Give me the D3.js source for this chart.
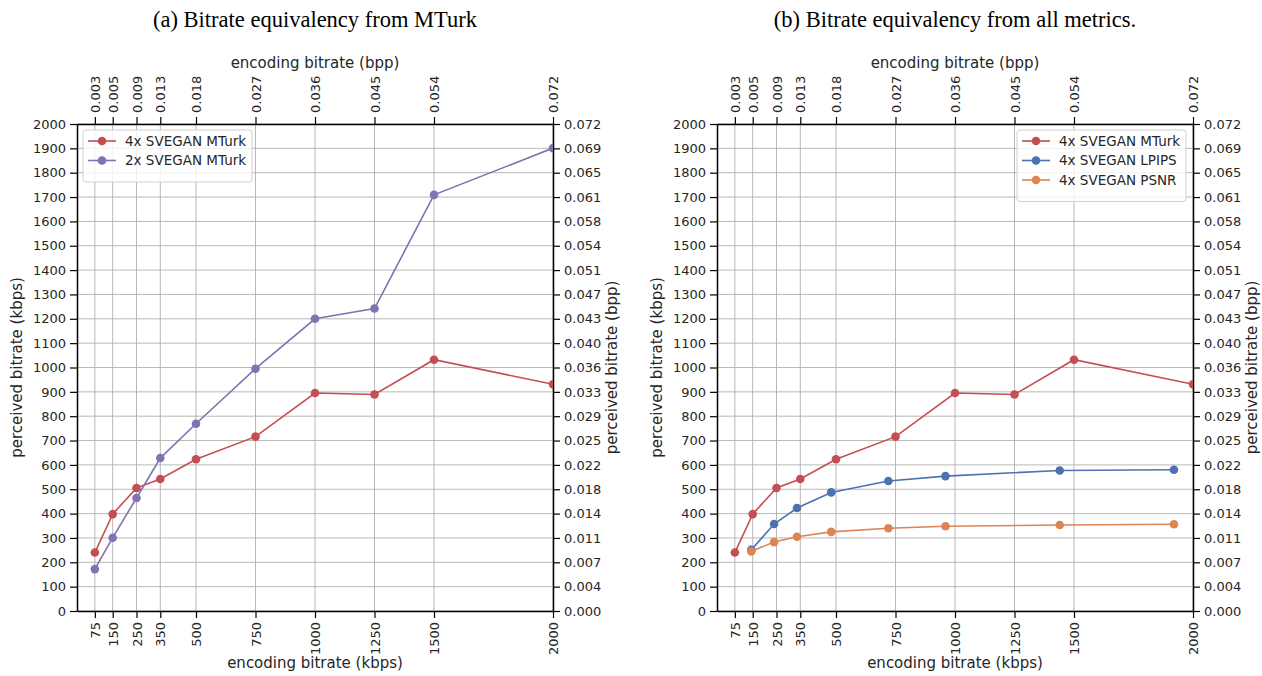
<!DOCTYPE html>
<html>
<head>
<meta charset="utf-8">
<script src="https://cdn.jsdelivr.net/npm/d3@7"></script>
<style>
  body { margin: 0; background: #fff; }
  svg { display: block; }
  text { font-family: "DejaVu Sans", sans-serif; fill: #262626; }
  .title { font-family: "Liberation Serif", "Times New Roman", serif; font-size: 22.5px; fill: #000; }
</style>
</head>
<body>
<svg id="chart" width="1262" height="676"></svg>
<script>
// Encoding bitrates (kbps) at which MTurk comparisons were run
const mturkBitrates = [75, 150, 250, 350, 500, 750, 1000, 1250, 1500, 2000];
// Perceived bitrate (kbps) from MTurk for 4x and 2x SVEGAN
const svegan4xMTurk = [240, 398, 505, 542, 623, 716, 895, 889, 1032, 931];
const svegan2xMTurk = [172, 301, 464, 628, 769, 995, 1200, 1242, 1709, 1901];
// Encoding bitrates (kbps) used for metric-based equivalency
const metricBitrates = [144, 240, 336, 480, 720, 960, 1440, 1920];
const svegan4xLPIPS = [251, 357, 423, 487, 534, 554, 577, 580];
const svegan4xPSNR = [245, 283, 305, 325, 340, 348, 353, 356];

// Axis ticks and their labels
const xTicks = [75, 150, 250, 350, 500, 750, 1000, 1250, 1500, 2000];
const xTopLabels = ["0.003", "0.005", "0.009", "0.013", "0.018", "0.027", "0.036", "0.045", "0.054", "0.072"];
const yTicks = [0, 100, 200, 300, 400, 500, 600, 700, 800, 900, 1000, 1100, 1200, 1300, 1400, 1500, 1600, 1700, 1800, 1900, 2000];
const yRightLabels = ["0.000", "0.004", "0.007", "0.011", "0.014", "0.018", "0.022", "0.025", "0.029", "0.033", "0.036",
                      "0.040", "0.043", "0.047", "0.051", "0.054", "0.058", "0.061", "0.065", "0.069", "0.072"];

const colors = { red: "#c44e52", purple: "#8172b2", blue: "#4c72b0", orange: "#dd8452" };

const panels = [
  {
    title: "(a) Bitrate equivalency from MTurk",
    left: 77, right: 553,
    series: [
      { name: "4x SVEGAN MTurk", x: mturkBitrates, y: svegan4xMTurk, color: colors.red },
      { name: "2x SVEGAN MTurk", x: mturkBitrates, y: svegan2xMTurk, color: colors.purple }
    ]
  },
  {
    title: "(b) Bitrate equivalency from all metrics.",
    left: 717, right: 1193,
    series: [
      { name: "4x SVEGAN MTurk", x: mturkBitrates, y: svegan4xMTurk, color: colors.red },
      { name: "4x SVEGAN LPIPS", x: metricBitrates, y: svegan4xLPIPS, color: colors.blue },
      { name: "4x SVEGAN PSNR", x: metricBitrates, y: svegan4xPSNR, color: colors.orange }
    ]
  }
];

const plotTop = 124, plotBottom = 611;
const svg = d3.select("#chart");
const defs = svg.append("defs");
const intFmt = d3.format("d");

panels.forEach((p, pi) => {
  const x = d3.scaleLinear().domain([0, 2000]).range([p.left, p.right]);
  const y = d3.scaleLinear().domain([0, 2000]).range([plotBottom, plotTop]);
  const g = svg.append("g");
  const cx = (p.left + p.right) / 2;

  // grid
  const grid = g.append("g");
  xTicks.forEach(t => grid.append("line")
    .attr("x1", x(t)).attr("x2", x(t)).attr("y1", plotTop).attr("y2", plotBottom)
    .attr("stroke", "#b0b0b0").attr("stroke-width", 0.9));
  yTicks.forEach(t => grid.append("line")
    .attr("x1", p.left).attr("x2", p.right).attr("y1", y(t)).attr("y2", y(t))
    .attr("stroke", "#b0b0b0").attr("stroke-width", 0.9));

  // axes
  const axStyle = sel => {
    sel.select(".domain").attr("stroke", "#000").attr("stroke-width", 1.5);
    sel.selectAll(".tick line").attr("stroke", "#000").attr("stroke-width", 1.2);
    sel.selectAll(".tick text").attr("fill", "#262626").style("font-family", "DejaVu Sans, sans-serif").style("font-size", "13px");
  };

  const bottomAx = g.append("g").attr("transform", `translate(0,${plotBottom})`)
    .call(d3.axisBottom(x).tickValues(xTicks).tickFormat(intFmt).tickSize(7).tickSizeOuter(0).tickPadding(4))
    .call(axStyle);
  bottomAx.selectAll(".tick text")
    .attr("transform", "rotate(-90)").attr("text-anchor", "end")
    .attr("x", -11).attr("y", 0).attr("dy", "0.35em");

  const topAx = g.append("g").attr("transform", `translate(0,${plotTop})`)
    .call(d3.axisTop(x).tickValues(xTicks).tickFormat((d, i) => xTopLabels[i]).tickSize(7).tickSizeOuter(0))
    .call(axStyle);
  topAx.selectAll(".tick text")
    .attr("transform", "rotate(-90)").attr("text-anchor", "start")
    .attr("x", 11).attr("y", 0).attr("dy", "0.35em");

  g.append("g").attr("transform", `translate(${p.left},0)`)
    .call(d3.axisLeft(y).tickValues(yTicks).tickFormat(intFmt).tickSize(7).tickSizeOuter(0).tickPadding(4))
    .call(axStyle);

  g.append("g").attr("transform", `translate(${p.right},0)`)
    .call(d3.axisRight(y).tickValues(yTicks).tickFormat((d, i) => yRightLabels[i]).tickSize(7).tickSizeOuter(0).tickPadding(4))
    .call(axStyle);

  // axis labels
  g.append("text").attr("x", cx).attr("y", 668).attr("text-anchor", "middle")
    .style("font-size", "15px").text("encoding bitrate (kbps)");
  g.append("text").attr("x", cx).attr("y", 68).attr("text-anchor", "middle")
    .style("font-size", "15px").text("encoding bitrate (bpp)");
  g.append("text").attr("transform", `translate(${p.left - 55},${(plotTop + plotBottom) / 2}) rotate(-90)`)
    .attr("text-anchor", "middle").style("font-size", "15px").text("perceived bitrate (kbps)");
  g.append("text").attr("transform", `translate(${p.right + 64},${(plotTop + plotBottom) / 2}) rotate(-90)`)
    .attr("text-anchor", "middle").style("font-size", "15px").text("perceived bitrate (bpp)");

  // title
  g.append("text").attr("class", "title").attr("x", cx).attr("y", 27).attr("text-anchor", "middle").text(p.title);

  // data, clipped to the plot area
  const clipId = "clip" + pi;
  defs.append("clipPath").attr("id", clipId).append("rect")
    .attr("x", p.left).attr("y", plotTop).attr("width", p.right - p.left).attr("height", plotBottom - plotTop);
  const plot = g.append("g").attr("clip-path", `url(#${clipId})`);
  const line = d3.line().x(d => x(d[0])).y(d => y(d[1]));
  p.series.forEach(s => {
    const pts = s.x.map((v, i) => [v, s.y[i]]);
    plot.append("path").datum(pts).attr("d", line)
      .attr("fill", "none").attr("stroke", s.color).attr("stroke-width", 1.6);
    plot.selectAll(null).data(pts).enter().append("circle")
      .attr("cx", d => x(d[0])).attr("cy", d => y(d[1])).attr("r", 4.3)
      .attr("fill", s.color);
  });

  // legend
  const lw = 169, lh = 13 + p.series.length * 19.5;
  const lx = pi === 0 ? p.left + 6 : p.right - 176, ly = 130;
  const lg = g.append("g").attr("transform", `translate(${lx},${ly})`);
  lg.append("rect").attr("width", lw).attr("height", lh).attr("rx", 3)
    .attr("fill", "#fff").attr("fill-opacity", 0.8).attr("stroke", "#d0d0d0").attr("stroke-width", 1);
  p.series.forEach((s, i) => {
    const ry = 11 + i * 19.5;
    lg.append("line").attr("x1", 5).attr("x2", 33).attr("y1", ry).attr("y2", ry)
      .attr("stroke", s.color).attr("stroke-width", 1.6);
    lg.append("circle").attr("cx", 19).attr("cy", ry).attr("r", 4.3).attr("fill", s.color);
    lg.append("text").attr("x", 42).attr("y", ry).attr("dy", "0.35em")
      .style("font-size", "13.5px").text(s.name);
  });
});
</script>
</body>
</html>
